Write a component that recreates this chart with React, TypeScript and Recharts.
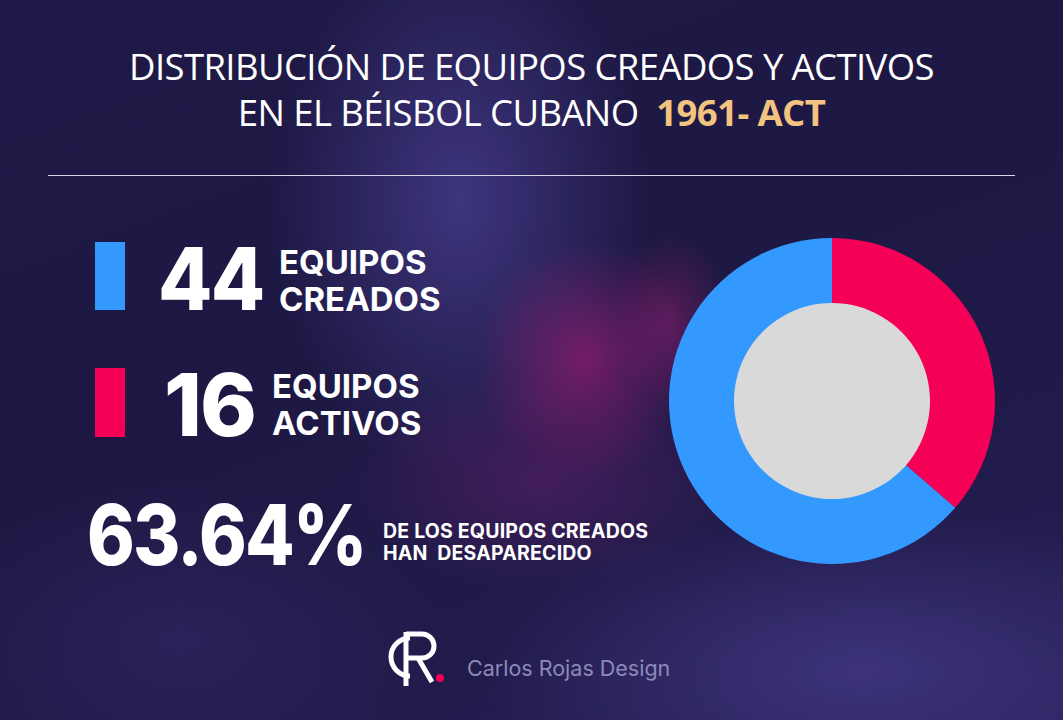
import React from "react"
import { PieChart, Pie, Cell } from "recharts"

const SEGMENTS = ["Equipos activos", "Equipos desaparecidos"]
const TEAM_COUNTS = [16, 28]
const SEGMENT_COLORS = ["#f50057", "#3399ff"]
const TOTAL_CREATED = 44
const ACTIVE_TEAMS = 16
const CENTER_FILL = [1]

const chartData = SEGMENTS.map((name, i) => ({ name, value: TEAM_COUNTS[i] }))
const centerData = CENTER_FILL.map((v) => ({ name: "centro", value: v }))

const lostPct = (((TOTAL_CREATED - ACTIVE_TEAMS) / TOTAL_CREATED) * 100).toFixed(2)

const bold = "Inter, 'Open Sans', sans-serif"

const bigNum: React.CSSProperties = {
  position: "absolute",
  fontFamily: bold,
  fontWeight: 800,
  fontSize: 86,
  lineHeight: "100px",
  letterSpacing: -2,
  transformOrigin: "left center",
}

export default function App() {
  return (
    <div
      style={{
        position: "absolute",
        left: 0,
        top: 0,
        width: 1063,
        height: 720,
        overflow: "hidden",
        fontFamily: "'Open Sans', sans-serif",
        color: "#fff",
        background:
          "radial-gradient(ellipse 110px 120px at 585px 360px, rgba(150,30,115,0.7), rgba(150,30,115,0) 100%)," +
          "radial-gradient(ellipse 200px 110px at 540px 480px, rgba(110,35,115,0.45), rgba(110,35,115,0) 100%)," +
          "radial-gradient(ellipse 60px 90px at 670px 320px, rgba(140,30,110,0.5), rgba(140,30,110,0) 100%)," +
          "radial-gradient(ellipse 190px 280px at 460px 200px, rgba(70,60,140,0.8), rgba(70,60,140,0) 100%)," +
          "radial-gradient(ellipse 380px 160px at 860px 670px, rgba(68,58,135,0.75), rgba(68,58,135,0) 100%)," +
          "radial-gradient(ellipse 260px 160px at 180px 640px, rgba(52,42,105,0.5), rgba(52,42,105,0) 100%)," +
          "linear-gradient(160deg, #1e1946 0%, #1d1843 45%, #211b4b 75%, #28215a 100%)",
      }}
    >
      <div
        style={{
          position: "absolute",
          top: 43,
          left: 0,
          width: 1063,
          textAlign: "center",
          fontSize: 36.5,
          lineHeight: "46px",
          letterSpacing: -0.6,
        }}
      >
        DISTRIBUCIÓN DE EQUIPOS CREADOS Y ACTIVOS
        <br />
        EN EL BÉISBOL CUBANO&nbsp;&nbsp;
        <span style={{ color: "#f3c47f", fontWeight: 700 }}>1961- ACT</span>
      </div>
      <div
        style={{ position: "absolute", top: 175, left: 48, width: 967, height: 1, background: "#d8d6e6" }}
      />

      <div style={{ position: "absolute", left: 95, top: 242, width: 30, height: 68, background: SEGMENT_COLORS[1] }} />
      <div style={{ position: "absolute", left: 95, top: 368, width: 30, height: 69, background: SEGMENT_COLORS[0] }} />

      <div style={{ ...bigNum, left: 158, top: 229, transform: "scaleX(0.92)" }}>{TOTAL_CREATED}</div>
      <div style={{ position: "absolute", left: 279, top: 244, fontFamily: bold, fontWeight: 700, fontSize: 33, lineHeight: "37px" }}>
        EQUIPOS
        <br />
        CREADOS
      </div>

      <div style={{ ...bigNum, left: 164, top: 355 }}>{ACTIVE_TEAMS}</div>
      <div style={{ position: "absolute", left: 272, top: 368, fontFamily: bold, fontWeight: 700, fontSize: 33, lineHeight: "37px" }}>
        EQUIPOS
        <br />
        ACTIVOS
      </div>

      <div style={{ ...bigNum, left: 87, top: 485, fontSize: 84, transform: "scaleX(0.86)" }}>{lostPct}%</div>
      <div style={{ position: "absolute", left: 383, top: 520, fontFamily: bold, fontWeight: 700, fontSize: 19.5, lineHeight: "22px", letterSpacing: 0.2 }}>
        DE LOS EQUIPOS CREADOS
        <br />
        HAN&nbsp; DESAPARECIDO
      </div>

      <div style={{ position: "absolute", left: 388, top: 628, width: 60, height: 60 }}>
        <svg width={60} height={60}>
          <path d="M22 10 A18 18 0 1 0 22 48" fill="none" stroke="#fff" strokeWidth={5} />
          <path d="M18 4 L18 58" stroke="#fff" strokeWidth={5} />
          <path d="M18 6 L34 6 A12 12 0 0 1 34 30 L18 30 M30 30 L44 54" fill="none" stroke="#fff" strokeWidth={5} />
          <circle cx={52} cy={50} r={4} fill="#f50057" />
        </svg>
      </div>
      <div style={{ position: "absolute", left: 467, top: 655, fontFamily: "Inter, sans-serif", fontSize: 21.5, color: "#8e89b8" }}>
        Carlos Rojas Design
      </div>

      <div style={{ position: "absolute", left: 662, top: 231 }}>
        <PieChart width={340} height={340} margin={{ top: 0, right: 0, bottom: 0, left: 0 }}>
          <Pie
            data={chartData}
            dataKey="value"
            cx={170}
            cy={170}
            innerRadius={97}
            outerRadius={163}
            startAngle={90}
            endAngle={-270}
            stroke="none"
            isAnimationActive={false}
          >
            {chartData.map((entry, index) => (
              <Cell key={`cell-${index}`} fill={SEGMENT_COLORS[index]} />
            ))}
          </Pie>
          <Pie
            data={centerData}
            dataKey="value"
            cx={170}
            cy={170}
            innerRadius={0}
            outerRadius={98}
            fill="#d9d9d9"
            stroke="none"
            isAnimationActive={false}
          />
        </PieChart>
      </div>
    </div>
  )
}
